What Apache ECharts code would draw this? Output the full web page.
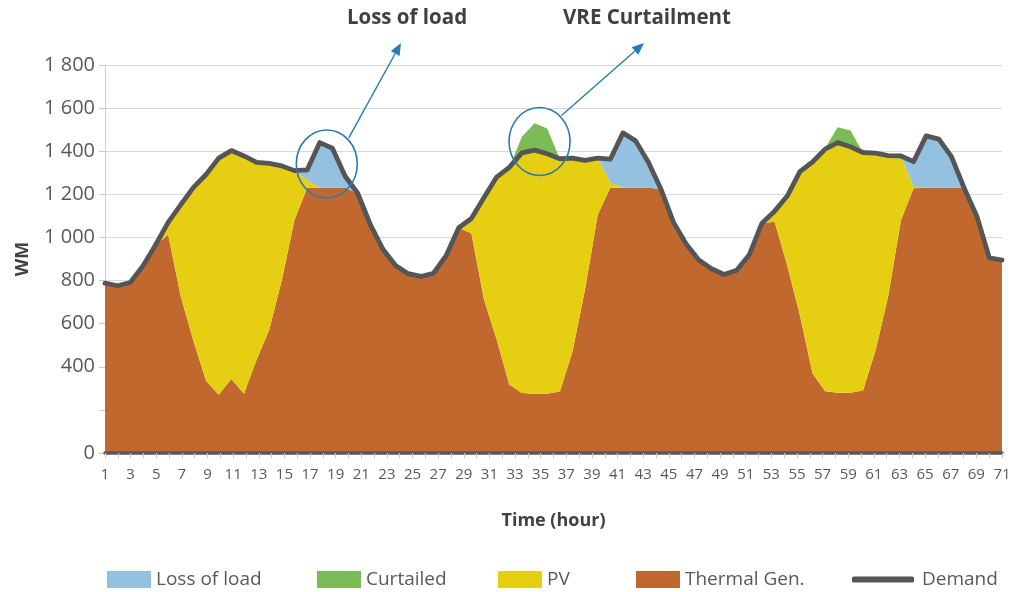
<!DOCTYPE html>
<html>
<head>
<meta charset="utf-8">
<title>Loss of load and VRE curtailment</title>
<script src="https://cdn.jsdelivr.net/npm/echarts@6/dist/echarts.min.js"></script>
<style>
  html, body { margin: 0; padding: 0; background: #fff; }
  #chart { width: 1011px; height: 592px; }
</style>
</head>
<body>
<div id="chart"></div>
<script>
// axis labels (71 hour labels), the series themselves hold 72 hourly points
const hours = ['1','2','3','4','5','6','7','8','9','10','11','12','13','14','15','16','17','18','19','20',
  '21','22','23','24','25','26','27','28','29','30','31','32','33','34','35','36','37','38','39','40',
  '41','42','43','44','45','46','47','48','49','50','51','52','53','54','55','56','57','58','59','60',
  '61','62','63','64','65','66','67','68','69','70','71']
const yTicks = [0, 200, 400, 600, 800, 1000, 1200, 1400, 1600, 1800]

const demand = [788, 776, 791, 868, 965, 1070, 1152, 1232, 1292, 1368, 1403, 1378, 1348, 1344, 1332, 1310,
  1313, 1440, 1414, 1285, 1205, 1060, 945, 870, 832, 819, 834, 915, 1045, 1088, 1185, 1280,
  1325, 1392, 1405, 1388, 1365, 1368, 1358, 1368, 1363, 1485, 1448, 1350, 1225, 1070, 970, 895,
  855, 828, 848, 920, 1066, 1122, 1192, 1305, 1350, 1410, 1440, 1421, 1394, 1391, 1380, 1378,
  1352, 1471, 1456, 1375, 1230, 1100, 905, 895]
const thermal = [788, 776, 791, 868, 965, 1012, 726, 520, 335, 270, 343, 275, 433, 572, 803, 1082,
  1229, 1230, 1230, 1230, 1205, 1060, 945, 870, 832, 819, 834, 915, 1045, 1020, 711, 526,
  318, 278, 275, 275, 285, 470, 760, 1105, 1230, 1230, 1230, 1230, 1225, 1070, 970, 895,
  855, 828, 848, 920, 1066, 1073, 870, 640, 370, 286, 280, 280, 290, 478, 730, 1080,
  1228, 1230, 1230, 1230, 1230, 1100, 905, 895]
const pv = [0, 0, 0, 0, 0, 58, 426, 712, 957, 1098, 1060, 1103, 915, 772, 529, 228,
  38, 0, 0, 0, 0, 0, 0, 0, 0, 0, 0, 0, 0, 68, 474, 754,
  1007, 1114, 1130, 1113, 1080, 898, 598, 263, 25, 0, 0, 0, 0, 0, 0, 0,
  0, 0, 0, 0, 0, 49, 322, 665, 980, 1124, 1160, 1141, 1104, 913, 650, 298,
  7, 0, 0, 0, 0, 0, 0, 0]
const curtailed = [0, 0, 0, 0, 0, 0, 0, 0, 0, 0, 0, 0, 0, 0, 0, 0,
  0, 0, 0, 0, 0, 0, 0, 0, 0, 0, 0, 0, 0, 0, 0, 0,
  0, 75, 125, 117, 0, 0, 0, 0, 0, 0, 0, 0, 0, 0, 0, 0,
  0, 0, 0, 0, 0, 0, 0, 0, 0, 5, 71, 75, 0, 0, 0, 0,
  0, 0, 0, 0, 0, 0, 0, 0]
const lossOfLoad = [0, 0, 0, 0, 0, 0, 0, 0, 0, 0, 0, 0, 0, 0, 0, 0,
  46, 210, 184, 55, 0, 0, 0, 0, 0, 0, 0, 0, 0, 0, 0, 0,
  0, 0, 0, 0, 0, 0, 0, 0, 108, 255, 218, 120, 0, 0, 0, 0,
  0, 0, 0, 0, 0, 0, 0, 0, 0, 0, 0, 0, 0, 0, 0, 0,
  117, 241, 226, 145, 0, 0, 0, 0]

const FONT = 'Open Sans'
const TXT = '#595959'

const chart = echarts.init(document.getElementById('chart'))

// hidden axis for the 72 data points
const steps = demand.map(function (_, k) { return String(k) })

function areaSeries(name, data, color) {
  return {
    name: name,
    type: 'line',
    xAxisIndex: 1,
    stack: 'gen',
    data: data,
    symbol: 'none',
    lineStyle: { width: 0 },
    itemStyle: { color: color },
    areaStyle: { color: color, opacity: 1 },
    silent: true,
    z: 2
  }
}

function legendAt(name, left, extra) {
  return Object.assign({
    data: [name],
    left: left,
    top: 570,
    padding: 0,
    icon: 'rect',
    itemWidth: 44,
    itemHeight: 17,
    textStyle: { fontFamily: FONT, fontSize: 19, color: TXT },
    selectedMode: false
  }, extra || {})
}

chart.setOption({
  animation: false,
  backgroundColor: '#fff',
  grid: { left: 105, right: 9, top: 65, bottom: 139, containLabel: false, outerBoundsMode: 'none' },
  legend: [
    legendAt('Loss of load', 107),
    legendAt('Curtailed', 317),
    legendAt('PV', 498),
    legendAt('Thermal Gen.', 636),
    legendAt('Demand', 852, {
      icon: 'roundRect', itemWidth: 62, itemHeight: 6,
      textStyle: { fontFamily: FONT, fontSize: 19, color: TXT, padding: [0, 0, 0, 3] }
    })
  ],
  xAxis: [
    {
      type: 'category',
      data: hours,
      boundaryGap: false,
      name: 'Time (hour)',
      nameLocation: 'middle',
      nameGap: 59,
      nameTextStyle: { fontFamily: FONT, fontSize: 18, fontWeight: 'bold', color: '#404040' },
      axisLine: { lineStyle: { color: '#595959', width: 3.5 } },
      axisTick: { interval: 0, length: 5, lineStyle: { color: '#c8c8c8' } },
      axisLabel: { interval: 1, margin: 14, fontFamily: FONT, fontSize: 15, color: TXT },
      splitLine: { show: false },
      z: 5
    },
    {
      type: 'category',
      data: steps,
      boundaryGap: false,
      show: false
    }
  ],
  yAxis: {
    type: 'value',
    min: 0,
    max: 1800,
    interval: 200,
    name: 'WM',
    nameLocation: 'middle',
    nameRotate: 90,
    nameGap: 73,
    nameTextStyle: { fontFamily: FONT, fontSize: 18, fontWeight: 'bold', color: '#404040' },
    axisLine: { show: true, lineStyle: { color: '#d0d0d0', width: 1 } },
    axisTick: { show: true, length: 6, lineStyle: { color: '#c8c8c8' } },
    axisLabel: {
      margin: 10,
      fontFamily: FONT,
      fontSize: 20,
      color: TXT,
      formatter: function (v) {
        if (v === yTicks[1]) return ''
        return String(v).replace(/\B(?=(\d{3})+(?!\d))/g, ' ')
      }
    },
    splitLine: { lineStyle: { color: '#d9d9d9', width: 1 } }
  },
  series: [
    areaSeries('Thermal Gen.', thermal, '#c1682f'),
    areaSeries('PV', pv, '#e6cf13'),
    areaSeries('Curtailed', curtailed, '#7bbb58'),
    areaSeries('Loss of load', lossOfLoad, '#94c1e0'),
    {
      name: 'Demand',
      type: 'line',
      xAxisIndex: 1,
      data: demand,
      symbol: 'none',
      itemStyle: { color: '#555555' },
      lineStyle: { color: '#555555', width: 4.8, cap: 'round', join: 'round' },
      silent: true,
      z: 4
    }
  ]
})

// callouts: circle over the event, arrow up to the bold caption
// (category axis snaps to whole steps, so a small pixel nudge dx is added)
const callouts = [
  { text: 'Loss of load', at: [17, 1341], dx: 7, textX: 407, tipDx: -6 },
  { text: 'VRE Curtailment', at: [34, 1445], dx: 5, textX: 647, tipDx: -3 }
]
const BLUE = '#2a79b3'
const graphics = []
callouts.forEach(function (c) {
  const p = chart.convertToPixel({ xAxisIndex: 1, yAxisIndex: 0 }, c.at)
  const cx = p[0] + c.dx, cy = p[1]
  const tail = [cx + 22, cy - 26]
  const tip = [c.textX + c.tipDx, 43]
  const dx = tip[0] - tail[0], dy = tip[1] - tail[1]
  const len = Math.sqrt(dx * dx + dy * dy)
  const ux = dx / len, uy = dy / len
  const base = [tip[0] - ux * 12, tip[1] - uy * 12]
  graphics.push({
    type: 'ellipse',
    shape: { cx: cx, cy: cy, rx: 30.5, ry: 34 },
    style: { fill: 'none', stroke: BLUE, lineWidth: 1.6 },
    silent: true,
    z: 100
  })
  graphics.push({
    type: 'line',
    shape: { x1: tail[0], y1: tail[1], x2: base[0], y2: base[1] },
    style: { stroke: BLUE, lineWidth: 1.4 },
    silent: true,
    z: 100
  })
  graphics.push({
    type: 'polygon',
    shape: { points: [tip, [base[0] - uy * 5, base[1] + ux * 5], [base[0] + uy * 5, base[1] - ux * 5]] },
    style: { fill: BLUE },
    silent: true,
    z: 100
  })
  graphics.push({
    type: 'text',
    x: c.textX,
    y: 18,
    style: {
      text: c.text,
      fontFamily: FONT,
      fontSize: 20.5,
      fontWeight: 'bold',
      fill: '#404040',
      align: 'center',
      verticalAlign: 'middle'
    },
    silent: true,
    z: 100
  })
})
chart.setOption({ graphic: graphics })
</script>
</body>
</html>
